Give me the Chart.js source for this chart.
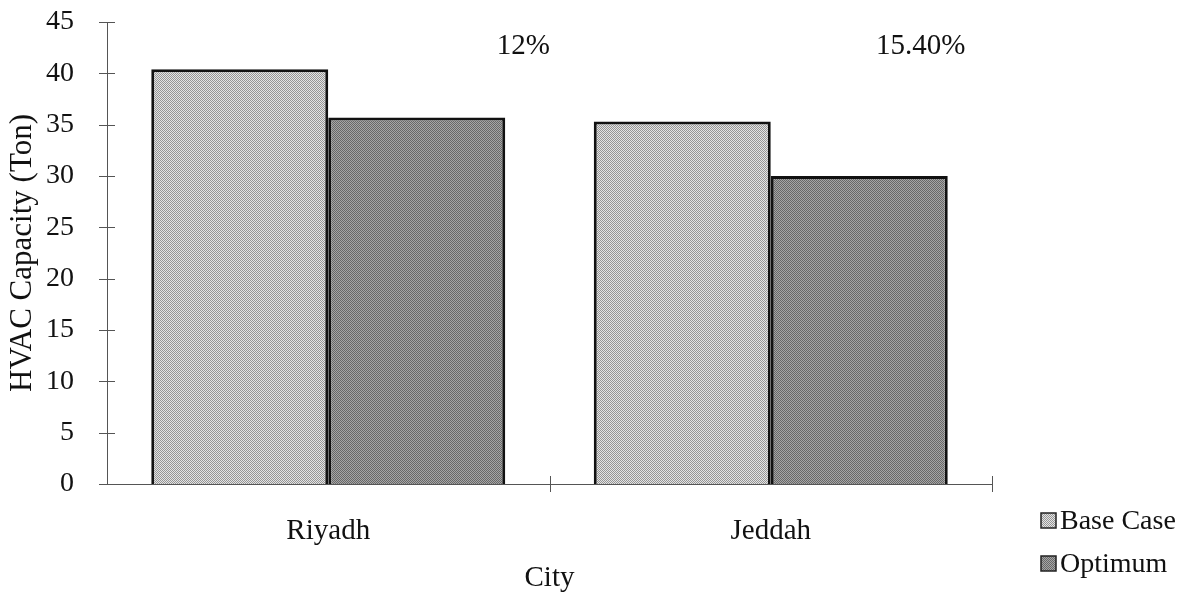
<!DOCTYPE html>
<html>
<head>
<meta charset="utf-8">
<script src="https://cdn.jsdelivr.net/npm/chart.js@4.4.1/dist/chart.umd.min.js"></script>
<style>
  html, body { margin: 0; padding: 0; background: #fff; }
  #wrap { width: 1190px; height: 596px; }
</style>
</head>
<body>
<div id="wrap"><canvas id="hvacChart" width="1190" height="596"></canvas></div>
<script>
const cities = ['Riyadh', 'Jeddah'];
const baseCase = [40.4, 35.3];
const optimum = [35.7, 30.0];
const savings = ['12%', '15.40%'];
const yTicks = [0, 5, 10, 15, 20, 25, 30, 35, 40, 45];

// small halftone-like patterns, like the scanned print
function makePattern(light, dark) {
  const c = document.createElement('canvas');
  c.width = 4; c.height = 4;
  const g = c.getContext('2d');
  g.fillStyle = light;
  g.fillRect(0, 0, 4, 4);
  g.fillStyle = dark;
  for (let y = 0; y < 4; y++) {
    for (let x = 0; x < 4; x++) {
      if ((x + y) % 2 === 0) g.fillRect(x, y, 1, 1);
    }
  }
  return g.createPattern(c, 'repeat');
}

const basePattern = makePattern('#e4e4e4', '#959595');
const optPattern = makePattern('#a6a6a6', '#686868');

const serif = '"Liberation Serif", "DejaVu Serif", serif';

// axis ticks that cross the axis lines, plus the % notes and the legend
const extras = {
  id: 'extras',
  afterDraw(chart) {
    const ctx = chart.ctx;
    const x = chart.scales.x;
    const y = chart.scales.y;
    const area = chart.chartArea;
    ctx.save();
    ctx.strokeStyle = '#555';
    ctx.lineWidth = 1;
    ctx.setLineDash([]);
    yTicks.forEach(v => {
      const py = Math.round(y.getPixelForValue(v)) + 0.5;
      ctx.beginPath();
      ctx.moveTo(area.left - 8, py);
      ctx.lineTo(area.left + 8, py);
      ctx.stroke();
    });
    const step = (area.right - area.left) / cities.length;
    for (let i = 1; i <= cities.length; i++) {
      const px = Math.round(area.left + i * step) + 0.5;
      ctx.beginPath();
      ctx.moveTo(px, area.bottom - 8);
      ctx.lineTo(px, area.bottom + 8);
      ctx.stroke();
    }

    // percentage notes
    ctx.fillStyle = '#111';
    ctx.font = '29px ' + serif;
    ctx.textAlign = 'center';
    ctx.textBaseline = 'middle';
    const noteOffset = [195, 150];
    savings.forEach((s, i) => {
      ctx.fillText(s, x.getPixelForValue(i) + noteOffset[i], area.top + 24);
    });

    // legend, bottom right
    ctx.font = '28px ' + serif;
    ctx.textAlign = 'left';
    const rows = [521, 564];
    chart.data.datasets.forEach((ds, i) => {
      const ty = rows[i];
      ctx.fillStyle = ds.backgroundColor;
      ctx.fillRect(1041, ty - 8, 15, 15);
      ctx.strokeStyle = '#222';
      ctx.lineWidth = 1.5;
      ctx.strokeRect(1041, ty - 8, 15, 15);
      ctx.fillStyle = '#111';
      ctx.fillText(ds.label, 1060, ty + 1);
    });
    ctx.restore();
  }
};

new Chart(document.getElementById('hvacChart').getContext('2d'), {
  type: 'bar',
  data: {
    labels: cities,
    datasets: [
      {
        label: 'Base Case',
        data: baseCase,
        backgroundColor: basePattern,
        borderColor: '#111',
        borderWidth: 3,
        categoryPercentage: 0.8,
        barPercentage: 1.0
      },
      {
        label: 'Optimum',
        data: optimum,
        backgroundColor: optPattern,
        borderColor: '#111',
        borderWidth: 3,
        categoryPercentage: 0.8,
        barPercentage: 1.0
      }
    ]
  },
  options: {
    responsive: false,
    animation: false,
    layout: { padding: { top: 22, right: 198, left: 0, bottom: 0 } },
    plugins: {
      legend: { display: false },
      tooltip: { enabled: false }
    },
    scales: {
      x: {
        grid: { display: false },
        border: { display: true, color: '#555', width: 1, dash: [5, 2] },
        ticks: { color: '#111', font: { family: serif, size: 29 }, padding: 22 },
        title: {
          display: true,
          text: 'City',
          color: '#111',
          font: { family: serif, size: 29 },
          padding: { top: 0, bottom: 0 }
        },
        afterFit(s) { s.height = 112; s.paddingLeft = 0; s.paddingRight = 0; }
      },
      y: {
        min: 0,
        max: 45,
        grid: { display: false },
        border: { display: true, color: '#555', width: 1, dash: [5, 2] },
        ticks: {
          stepSize: 5,
          color: '#111',
          font: { family: serif, size: 28 },
          padding: 25
        },
        title: {
          display: true,
          text: 'HVAC Capacity (Ton)',
          color: '#111',
          font: { family: serif, size: 31 },
          padding: { top: 4, bottom: 0 }
        },
        afterFit(s) { s.width = 107; s.paddingTop = 0; s.paddingBottom = 0; }
      }
    }
  },
  plugins: [extras]
});
</script>
</body>
</html>
